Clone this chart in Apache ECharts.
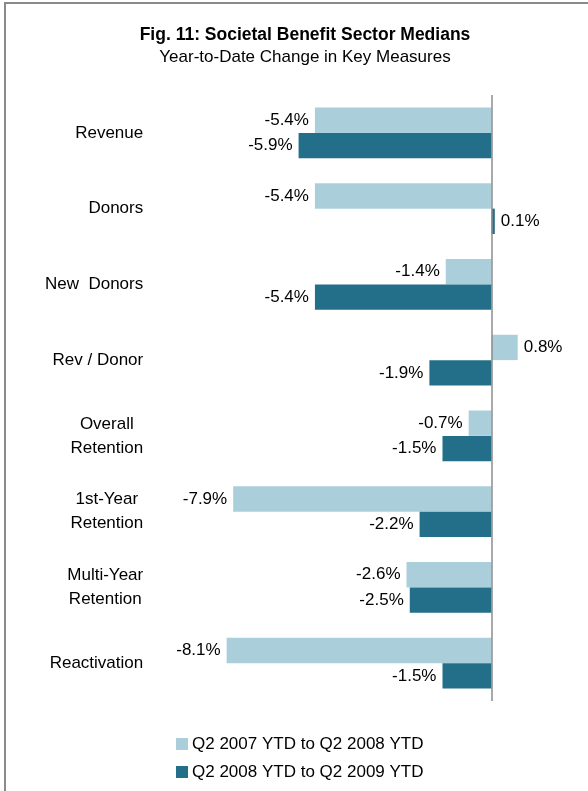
<!DOCTYPE html>
<html>
<head>
<meta charset="utf-8">
<script src="https://cdn.jsdelivr.net/npm/echarts@6/dist/echarts.min.js"></script>
<style>
  html, body { margin: 0; padding: 0; background: #fff; }
  #chart { width: 588px; height: 791px; }
</style>
</head>
<body>
<div id="chart"></div>
<script>
// Measures, top to bottom
const categories = [
  'Revenue', 'Donors', 'New  Donors', 'Rev / Donor',
  'Overall\nRetention', '1st-Year\nRetention', 'Multi-Year\nRetention', 'Reactivation'
];
const seriesNames = ['Q2 2007 YTD to Q2 2008 YTD', 'Q2 2008 YTD to Q2 2009 YTD'];
// Year-to-date change, percent
const change2008 = [-5.4, -5.4, -1.4, 0.8, -0.7, -7.9, -2.6, -8.1];
const change2009 = [-5.9, 0.1, -5.4, -1.9, -1.5, -2.2, -2.5, -1.5];

const lightColor = '#AACFDB';
const darkColor = '#236E88';
const FONT = 'Liberation Sans, Arial, sans-serif';

function valueLabel(p) {
  return p.value.toFixed(1) + '%';
}
function barData(values) {
  return values.map(v => ({
    value: v,
    label: { position: v < 0 ? 'left' : 'right' }
  }));
}
// Two-line names: lines centred on each other, block right-aligned to the axis
function categoryLabel(name) {
  return name.split('\n').map(line => '{c|' + line + '}').join('\n');
}

const chart = echarts.init(document.getElementById('chart'), null, { renderer: 'canvas' });
chart.setOption({
  animation: false,
  backgroundColor: '#fff',
  textStyle: { fontFamily: FONT },
  graphic: [{
    type: 'rect',
    shape: { x: 5, y: 3, width: 620, height: 820 },
    style: { fill: 'none', stroke: '#8a8a8a', lineWidth: 2 },
    z: -1
  }],
  title: {
    text: 'Fig. 11: Societal Benefit Sector Medians',
    subtext: 'Year-to-Date Change in Key Measures',
    left: 300, top: 21, textAlign: 'center',
    itemGap: 5,
    textStyle: { fontFamily: FONT, fontSize: 17.5, fontWeight: 'bold', color: '#000' },
    subtextStyle: { fontFamily: FONT, fontSize: 17, color: '#000' }
  },
  legend: {
    orient: 'vertical',
    left: 171, top: 730.5,
    itemWidth: 12, itemHeight: 12, itemGap: 11,
    icon: 'rect',
    textStyle: { fontFamily: FONT, fontSize: 17, lineHeight: 17, color: '#000', padding: [0, 0, 0, -1] },
    data: seriesNames
  },
  grid: { left: 197.2, right: 14.7, top: 95, bottom: 90, containLabel: false },
  xAxis: {
    type: 'value', min: -9, max: 2.5,
    axisLine: { show: false }, axisTick: { show: false },
    axisLabel: { show: false }, splitLine: { show: false }
  },
  yAxis: {
    type: 'category', inverse: true, data: categories,
    axisLine: { show: false }, axisTick: { show: false },
    axisLabel: {
      margin: 54, align: 'right', color: '#000',
      fontFamily: FONT, fontSize: 17, lineHeight: 24,
      formatter: categoryLabel,
      rich: {
        c: { align: 'center', fontFamily: FONT, fontSize: 17, lineHeight: 24, color: '#000' }
      }
    }
  },
  series: [
    {
      name: seriesNames[0], type: 'bar', data: barData(change2008),
      itemStyle: { color: lightColor },
      barGap: '0%', barCategoryGap: '33%',
      label: { show: true, formatter: valueLabel, color: '#000', fontFamily: FONT, fontSize: 17, distance: 6 },
      markLine: {
        silent: true, symbol: 'none',
        label: { show: false },
        lineStyle: { color: '#8c8c8c', width: 1.5, type: 'solid' },
        data: [{ xAxis: 0 }]
      }
    },
    {
      name: seriesNames[1], type: 'bar', data: barData(change2009),
      itemStyle: { color: darkColor },
      barGap: '0%', barCategoryGap: '33%',
      label: { show: true, formatter: valueLabel, color: '#000', fontFamily: FONT, fontSize: 17, distance: 6 }
    }
  ]
});
</script>
</body>
</html>
